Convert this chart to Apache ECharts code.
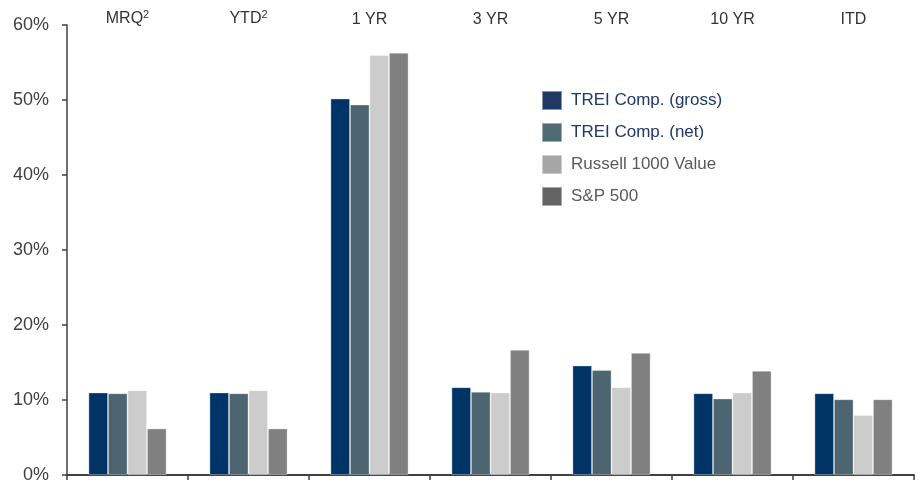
<!DOCTYPE html>
<html>
<head>
<meta charset="utf-8">
<script src="https://cdn.jsdelivr.net/npm/echarts@6/dist/echarts.min.js"></script>
<style>html,body{margin:0;padding:0;background:#fff}#c{width:920px;height:491px}</style>
</head>
<body>
<div id="c"></div>
<script>
var categories = ['MRQ', 'YTD', '1 YR', '3 YR', '5 YR', '10 YR', 'ITD'];
var superscripts = ['2', '2', '', '', '', '', ''];
var trei_gross = [11.0, 11.0, 50.2, 11.7, 14.6, 10.9, 10.9];
var trei_net = [10.9, 10.9, 49.4, 11.1, 14.0, 10.2, 10.1];
var russell_1000_value = [11.3, 11.3, 56.0, 11.0, 11.7, 11.0, 8.0];
var sp_500 = [6.2, 6.2, 56.3, 16.7, 16.3, 13.9, 10.1];
var yTicks = [0, 10, 20, 30, 40, 50, 60];

var font = 'Liberation Sans';
var chart = echarts.init(document.getElementById('c'));
function bar(name, data, color) {
  return {
    name: name, type: 'bar', data: data, barGap: '0%', barCategoryGap: '35.5%',
    itemStyle: { color: color, borderColor: 'rgba(255,255,255,0.45)', borderWidth: 0.8 },
    emphasis: { disabled: true }
  };
}
chart.setOption({
  animation: false,
  textStyle: { fontFamily: font },
  grid: { left: 67, right: 6, top: 25, bottom: 16, containLabel: false },
  legend: {
    orient: 'vertical', left: 541, top: 90, padding: 0, icon: 'rect',
    itemWidth: 20, itemHeight: 19, itemGap: 11,
    textStyle: { fontFamily: font, fontSize: 17, lineHeight: 19, padding: [0, 0, 0, 4] },
    data: [
      { name: 'TREI Comp. (gross)', itemStyle: { color: '#1f3864' }, textStyle: { color: '#1f3864' } },
      { name: 'TREI Comp. (net)', itemStyle: { color: '#4f6b73' }, textStyle: { color: '#1f3864' } },
      { name: 'Russell 1000 Value', itemStyle: { color: '#a6a6a6' }, textStyle: { color: '#595959' } },
      { name: 'S&P 500', itemStyle: { color: '#636363' }, textStyle: { color: '#595959' } }
    ]
  },
  xAxis: [
    {
      type: 'category', data: categories, position: 'bottom',
      axisLine: { lineStyle: { color: '#404040', width: 2 } },
      axisTick: { show: true, length: 5, lineStyle: { color: '#404040', width: 1.5 } },
      axisLabel: { show: false }
    },
    {
      type: 'category', data: categories, position: 'top',
      axisLine: { show: false }, axisTick: { show: false },
      axisLabel: {
        margin: -3,
        formatter: function (v, i) {
          var s = superscripts[i];
          return s ? '{a|' + v + '}{s|' + s + '}' : '{a|' + v + '}';
        },
        rich: {
          a: { fontSize: 16, color: '#333333', fontFamily: font },
          s: { fontSize: 11, color: '#333333', fontFamily: font, verticalAlign: 'top', padding: [0, 0, 8, 0] }
        }
      }
    }
  ],
  yAxis: {
    type: 'value', min: yTicks[0], max: yTicks[yTicks.length - 1], interval: 10,
    axisLine: { show: true, lineStyle: { color: '#404040', width: 1.5 } },
    axisTick: { show: true, length: 5, lineStyle: { color: '#404040', width: 1.5 } },
    splitLine: { show: false },
    axisLabel: { formatter: '{value}%', fontSize: 18, color: '#404040', margin: 18, fontFamily: font }
  },
  series: [
    bar('TREI Comp. (gross)', trei_gross, '#003366'),
    bar('TREI Comp. (net)', trei_net, '#4d6570'),
    bar('Russell 1000 Value', russell_1000_value, '#cccccc'),
    bar('S&P 500', sp_500, '#808080')
  ]
});
</script>
</body>
</html>
